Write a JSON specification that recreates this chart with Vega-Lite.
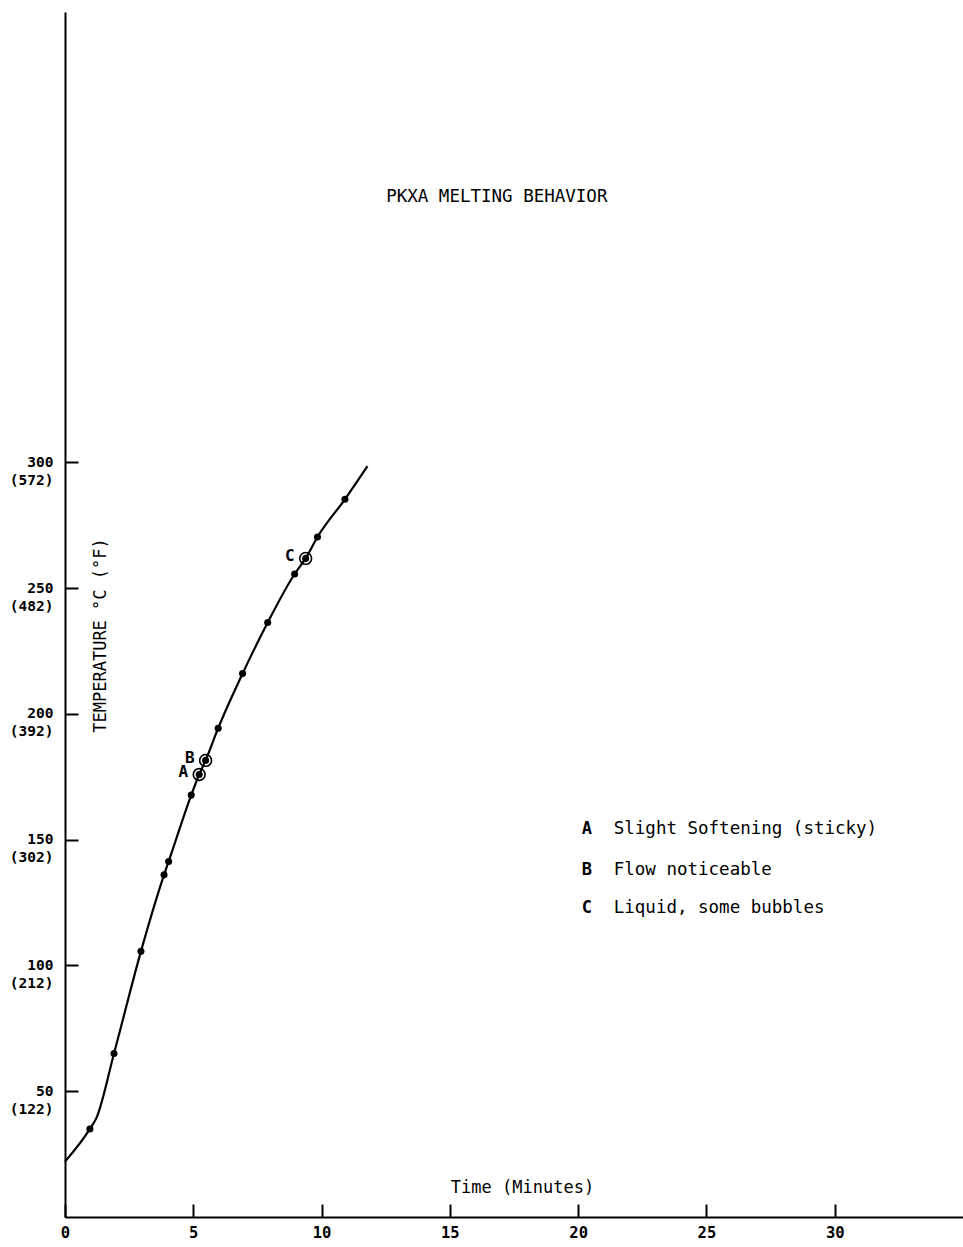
{
  "$schema": "https://vega.github.io/schema/vega-lite/v6.json",
  "width": 898,
  "height": 1205,
  "autosize": {"type": "none"},
  "padding": {"left": 65, "top": 12, "right": 0, "bottom": 30},
  "background": "white",
  "config": {
    "view": {"stroke": null},
    "font": "DejaVu Sans Mono",
    "text": {"font": "DejaVu Sans Mono", "color": "black"}
  },
  "data": {
    "values": [
      {"t": 0, "temp": 22, "kind": "curve"},
      {"t": 0.97, "temp": 35, "kind": "dot"},
      {"t": 1.23, "temp": 39.5, "kind": "curve"},
      {"t": 1.91, "temp": 65, "kind": "dot"},
      {"t": 2.96, "temp": 105.6, "kind": "dot"},
      {"t": 3.86, "temp": 136, "kind": "dot"},
      {"t": 4.04, "temp": 141.3, "kind": "dot"},
      {"t": 4.92, "temp": 167.7, "kind": "dot"},
      {"t": 5.23, "temp": 175.9, "kind": "mark", "label": "A"},
      {"t": 5.48, "temp": 181.5, "kind": "mark", "label": "B"},
      {"t": 5.97, "temp": 194.3, "kind": "dot"},
      {"t": 6.92, "temp": 216, "kind": "dot"},
      {"t": 7.9, "temp": 236.3, "kind": "dot"},
      {"t": 8.95, "temp": 255.6, "kind": "dot"},
      {"t": 9.38, "temp": 261.8, "kind": "mark", "label": "C"},
      {"t": 9.84, "temp": 270.3, "kind": "dot"},
      {"t": 10.91, "temp": 285.3, "kind": "dot"},
      {"t": 11.79, "temp": 298.5, "kind": "curve"},
      {"t": 20.14, "temp": 154.2, "kind": "note", "label": "A", "desc": "Slight Softening (sticky)"},
      {"t": 20.14, "temp": 137.9, "kind": "note", "label": "B", "desc": "Flow noticeable"},
      {"t": 20.14, "temp": 122.8, "kind": "note", "label": "C", "desc": "Liquid, some bubbles"},
      {"t": 16.83, "temp": 405.5, "kind": "heading", "desc": "PKXA MELTING BEHAVIOR"}
    ]
  },
  "layer": [
    {
      "transform": [{"filter": "datum.kind == 'curve' || datum.kind == 'dot' || datum.kind == 'mark'"}],
      "mark": {"type": "line", "interpolate": "monotone", "color": "black", "strokeWidth": 2.2},
      "encoding": {
        "x": {
          "field": "t",
          "type": "quantitative",
          "scale": {"domain": [0, 35], "nice": false, "zero": false},
          "axis": {
            "values": [0, 5, 10, 15, 20, 25, 30],
            "title": "Time (Minutes)",
            "titleX": 457,
            "titleY": -30,
            "titleAlign": "center",
            "titleBaseline": "middle",
            "titleFont": "DejaVu Sans Mono",
            "titleFontSize": 17,
            "titleFontWeight": "normal",
            "titleColor": "black",
            "tickSize": -13,
            "tickWidth": 2,
            "tickColor": "black",
            "domainColor": "black",
            "domainWidth": 2,
            "labelFont": "DejaVu Sans Mono",
            "labelFontWeight": "bold",
            "labelFontSize": 15.5,
            "labelColor": "black",
            "labelPadding": 21,
            "labelFlush": false,
            "grid": false
          }
        },
        "y": {
          "field": "temp",
          "type": "quantitative",
          "scale": {"domain": [0, 479], "nice": false},
          "axis": {
            "values": [50, 100, 150, 200, 250, 300],
            "labelExpr": "[datum.label, '(' + (datum.value * 9 / 5 + 32) + ')']",
            "title": "TEMPERATURE °C (°F)",
            "titleX": 35,
            "titleY": 623,
            "titleAngle": -90,
            "titleAlign": "center",
            "titleBaseline": "middle",
            "titleFont": "DejaVu Sans Mono",
            "titleFontSize": 17,
            "titleFontWeight": "normal",
            "titleColor": "black",
            "tickSize": -13,
            "tickWidth": 2,
            "tickColor": "black",
            "domainColor": "black",
            "domainWidth": 2,
            "labelFont": "DejaVu Sans Mono",
            "labelFontWeight": "bold",
            "labelFontSize": 14.5,
            "labelColor": "black",
            "labelAlign": "right",
            "labelBaseline": "middle",
            "labelLineHeight": 18,
            "labelOffset": 0,
            "labelPadding": 25,
            "grid": false
          }
        }
      }
    },
    {
      "transform": [{"filter": "datum.kind == 'dot' || datum.kind == 'mark'"}],
      "mark": {"type": "circle", "size": 50, "color": "black", "opacity": 1},
      "encoding": {
        "x": {"field": "t", "type": "quantitative"},
        "y": {"field": "temp", "type": "quantitative"}
      }
    },
    {
      "transform": [{"filter": "datum.kind == 'mark'"}],
      "mark": {"type": "point", "shape": "circle", "size": 140, "filled": false, "color": "black", "strokeWidth": 1.6, "opacity": 1},
      "encoding": {
        "x": {"field": "t", "type": "quantitative"},
        "y": {"field": "temp", "type": "quantitative"}
      }
    },
    {
      "transform": [{"filter": "datum.kind == 'mark'"}],
      "mark": {"type": "text", "align": "right", "baseline": "middle", "dx": -11, "dy": -2, "fontSize": 16, "fontWeight": "bold"},
      "encoding": {
        "x": {"field": "t", "type": "quantitative"},
        "y": {"field": "temp", "type": "quantitative"},
        "text": {"field": "label"}
      }
    },
    {
      "transform": [{"filter": "datum.kind == 'note'"}],
      "mark": {"type": "text", "align": "left", "baseline": "middle", "fontSize": 17, "fontWeight": "bold"},
      "encoding": {
        "x": {"field": "t", "type": "quantitative"},
        "y": {"field": "temp", "type": "quantitative"},
        "text": {"field": "label"}
      }
    },
    {
      "transform": [{"filter": "datum.kind == 'note'"}],
      "mark": {"type": "text", "align": "left", "baseline": "middle", "dx": 32, "fontSize": 17.5},
      "encoding": {
        "x": {"field": "t", "type": "quantitative"},
        "y": {"field": "temp", "type": "quantitative"},
        "text": {"field": "desc"}
      }
    },
    {
      "transform": [{"filter": "datum.kind == 'heading'"}],
      "mark": {"type": "text", "align": "center", "baseline": "middle", "fontSize": 17.5},
      "encoding": {
        "x": {"field": "t", "type": "quantitative"},
        "y": {"field": "temp", "type": "quantitative"},
        "text": {"field": "desc"}
      }
    }
  ]
}
